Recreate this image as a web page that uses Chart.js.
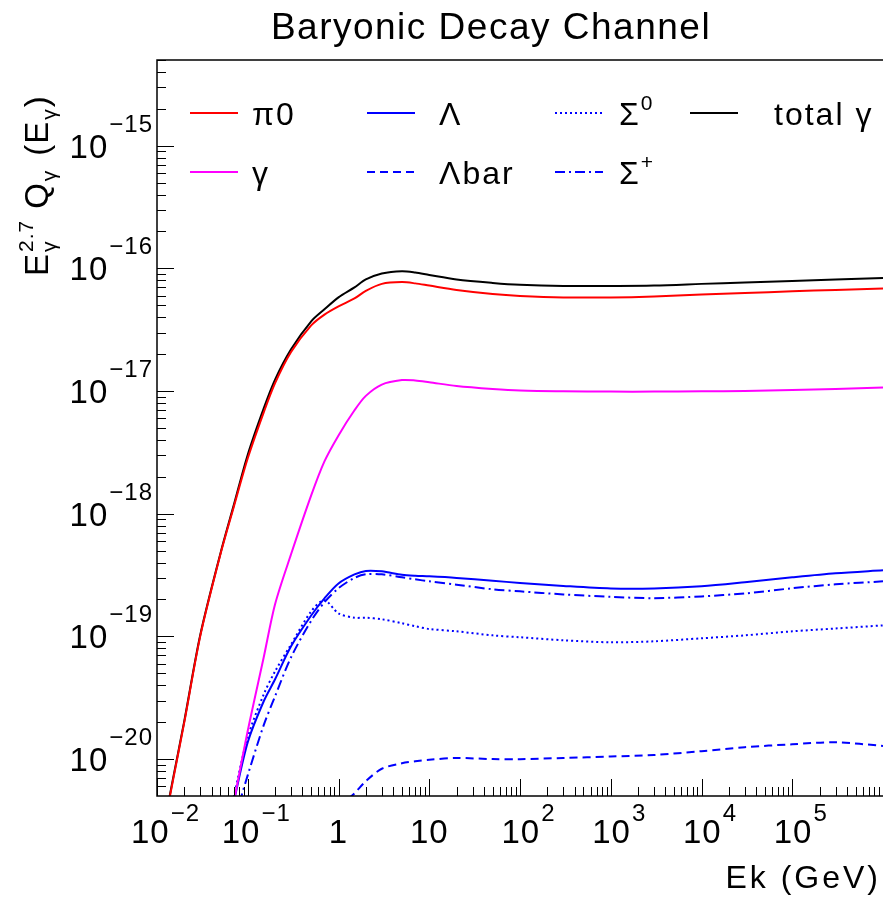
<!DOCTYPE html>
<html>
    <head>
        <title>Baryonic Decay Channel</title>
        <meta charset="utf-8">
        <script src="https://cdn.jsdelivr.net/npm/chart.js@4.4.0/dist/chart.umd.min.js"></script>
        <style>
            html, body { margin: 0; padding: 0; background: #fff; }
            #wrap { position: relative; width: 883px; height: 903px; }
        </style>
    </head>
    <body>
        <div id="wrap"><canvas id="myChart" width="883" height="903"></canvas></div>
        <script>
            // kinetic energy grid (GeV)
            var energy = [0.01, 0.015, 0.02, 0.03, 0.05, 0.07, 0.1, 0.15, 0.2, 0.3, 0.5, 0.7,
                          1, 1.5, 2, 3, 5, 7, 10, 20, 50, 100, 300, 1e3, 3e3, 1e4, 3e4, 1e5, 3e5, 1e6];

            // E^2.7 Q(E) for each channel
            var pi0 = [1.4e-21, 6.7e-21, 2.0e-20, 1.01e-19, 4.67e-19, 1.13e-18, 2.83e-18, 6.7e-18, 1.16e-17, 2.08e-17, 3.43e-17, 4.2e-17,
                       4.9e-17, 5.69e-17, 6.56e-17, 7.48e-17, 7.73e-17, 7.55e-17, 7.24e-17, 6.68e-17, 6.19e-17, 5.97e-17, 5.8e-17, 5.8e-17, 5.91e-17, 6.14e-17, 6.31e-17, 6.5e-17, 6.68e-17, 6.87e-17];
            var gamma = [null, null, null, null, null, 4.4e-21, 1.7e-20, 6.76e-20, 1.83e-19, 4.67e-19, 1.41e-18, 2.67e-18,
                       4.35e-18, 6.97e-18, 9.14e-18, 1.13e-17, 1.23e-17, 1.22e-17, 1.18e-17, 1.1e-17, 1.04e-17, 1.01e-17, 9.95e-18, 9.9e-18, 9.9e-18, 9.95e-18, 1.0e-17, 1.02e-17, 1.04e-17, 1.07e-17];
            var lambda = [null, null, null, null, null, 4.45e-21, 1.37e-20, 2.96e-20, 4.47e-20, 8.3e-20, 1.48e-19, 2.04e-19,
                       2.7e-19, 3.2e-19, 3.42e-19, 3.39e-19, 3.18e-19, 3.12e-19, 3.09e-19, 3.0e-19, 2.84e-19, 2.73e-19, 2.58e-19, 2.46e-19, 2.46e-19, 2.56e-19, 2.76e-19, 3.03e-19, 3.27e-19, 3.46e-19];
            var lambdaBar = [null, null, null, null, null, null, null, null, null, null, null, null,
                       4.05e-21, 5.26e-21, 6.6e-21, 8.34e-21, 9.25e-21, 9.6e-21, 9.87e-21, 1.02e-20, 1.0e-20, 9.98e-21, 1.02e-20, 1.05e-20, 1.08e-20, 1.16e-20, 1.25e-20, 1.32e-20, 1.37e-20, 1.28e-20];
            var sigma0 = [null, null, null, null, null, 4.9e-21, 1.51e-20, 3.37e-20, 5.19e-20, 8.6e-20, 1.6e-19, 1.97e-19,
                       1.54e-19, 1.42e-19, 1.42e-19, 1.38e-19, 1.28e-19, 1.21e-19, 1.15e-19, 1.1e-19, 1.02e-19, 9.84e-20, 9.3e-20, 8.95e-20, 9.12e-20, 9.65e-20, 1.02e-19, 1.1e-19, 1.16e-19, 1.23e-19];
            var sigmaPlus = [null, null, null, null, null, 3.05e-21, 7.4e-21, 1.89e-20, 3.25e-20, 6.76e-20, 1.34e-19, 1.9e-19,
                       2.47e-19, 3.0e-19, 3.21e-19, 3.21e-19, 3.03e-19, 2.92e-19, 2.81e-19, 2.64e-19, 2.42e-19, 2.33e-19, 2.2e-19, 2.1e-19, 2.05e-19, 2.12e-19, 2.24e-19, 2.47e-19, 2.66e-19, 2.81e-19];
            var total = [1.45e-21, 6.9e-21, 2.05e-20, 1.03e-19, 4.75e-19, 1.17e-18, 3.03e-18, 7.23e-18, 1.24e-17, 2.19e-17, 3.7e-17, 4.64e-17,
                       5.81e-17, 7.0e-17, 8.13e-17, 9.1e-17, 9.5e-17, 9.27e-17, 8.85e-17, 8.13e-17, 7.62e-17, 7.36e-17, 7.2e-17, 7.2e-17, 7.26e-17, 7.48e-17, 7.69e-17, 7.91e-17, 8.13e-17, 8.37e-17];

            var xTickDecades = [-2, -1, 0, 1, 2, 3, 4, 5];
            var yTickDecades = [-20, -19, -18, -17, -16, -15];

            var FONT = '"Liberation Sans", Arial, sans-serif';

            function pts(arr) {
                return energy.map(function(e, i) { return {x: e, y: arr[i]}; });
            }
            function ds(label, sup, arr, color, dash) {
                return {label: label, sup: sup, data: pts(arr), borderColor: color, backgroundColor: color,
                        borderWidth: 2, borderDash: dash, pointRadius: 0, tension: 0.3, fill: false};
            }

            // draws one piece of text, returns its width
            function piece(ctx, txt, x, y, size, sp) {
                ctx.font = size + 'px ' + FONT;
                ctx.letterSpacing = (sp || 0) + 'px';
                ctx.fillText(txt, x, y);
                var w = ctx.measureText(txt).width;
                ctx.letterSpacing = '0px';
                return w;
            }
            function textWidth(ctx, txt, size, sp) {
                ctx.font = size + 'px ' + FONT;
                ctx.letterSpacing = (sp || 0) + 'px';
                var w = ctx.measureText(txt).width;
                ctx.letterSpacing = '0px';
                return w;
            }

            var rootFrame = {
                id: 'rootFrame',
                afterDraw: function(chart) {
                    var ctx = chart.ctx, a = chart.chartArea;
                    var xs = chart.scales.x, ys = chart.scales.y;
                    ctx.save();
                    ctx.fillStyle = '#000';
                    ctx.strokeStyle = '#000';
                    ctx.lineWidth = 1.5;
                    ctx.strokeRect(a.left, a.top, a.right - a.left + 2, a.bottom - a.top);

                    // x ticks, drawn inward
                    ctx.lineWidth = 1;
                    ctx.beginPath();
                    for (var k = -2; k <= 5; k++) {
                        for (var m = 1; m <= 9; m++) {
                            var v = m * Math.pow(10, k);
                            var px = Math.round(xs.getPixelForValue(v)) + 0.5;
                            if (px < a.left || px > a.right) continue;
                            var len = m === 1 ? 17 : 9;
                            ctx.moveTo(px, a.bottom);
                            ctx.lineTo(px, a.bottom - len);
                        }
                    }
                    // y ticks
                    for (var k = -21; k <= -15; k++) {
                        for (var m = 1; m <= 9; m++) {
                            var v = m * Math.pow(10, k);
                            var py = Math.round(ys.getPixelForValue(v)) + 0.5;
                            if (py < a.top || py > a.bottom) continue;
                            var len = m === 1 ? 17 : 9;
                            ctx.moveTo(a.left, py);
                            ctx.lineTo(a.left + len, py);
                        }
                    }
                    ctx.stroke();

                    // x tick labels
                    ctx.textBaseline = 'alphabetic';
                    ctx.textAlign = 'left';
                    xTickDecades.forEach(function(k) {
                        var px = xs.getPixelForValue(Math.pow(10, k));
                        if (k === 0 || k === 1) {
                            var t = k === 0 ? '1' : '10';
                            var w = textWidth(ctx, t, 33, 1);
                            piece(ctx, t, px - w / 2, 843, 33, 1);
                            return;
                        }
                        var exp = (k < 0 ? '\u2212' : '') + Math.abs(k);
                        var w1 = textWidth(ctx, '10', 33, 1);
                        var w2 = textWidth(ctx, exp, 24, 1);
                        var x0 = px + 8 - (w1 + w2) / 2;
                        piece(ctx, '10', x0, 843, 33, 1);
                        piece(ctx, exp, x0 + w1 + 1, 821, 24, 1);
                    });

                    // y tick labels
                    yTickDecades.forEach(function(k) {
                        var py = ys.getPixelForValue(Math.pow(10, k));
                        var exp = '\u2212' + Math.abs(k);
                        var w2 = textWidth(ctx, exp, 24, 1);
                        var w1 = textWidth(ctx, '10', 33, 1);
                        var xr = 153;
                        piece(ctx, '10', xr - w2 - w1 - 1, py + 12, 33, 1);
                        piece(ctx, exp, xr - w2, py - 14, 24, 1);
                    });

                    // title
                    var tw = textWidth(ctx, 'Baryonic Decay Channel', 37, 1.5);
                    piece(ctx, 'Baryonic Decay Channel', 491 - tw / 2, 39, 37, 1.5);

                    // x axis title
                    var xw = textWidth(ctx, 'Ek (GeV)', 32, 3);
                    piece(ctx, 'Ek (GeV)', 881 - xw, 888, 32, 3);

                    // y axis title, rotated
                    ctx.save();
                    ctx.translate(48, 276);
                    ctx.rotate(-Math.PI / 2);
                    var x = 0;
                    x += piece(ctx, 'E', x, 0, 33, 1);
                    piece(ctx, '\u03B3', x + 1, 8, 21, 0);
                    x += piece(ctx, '2.7', x + 1, -15, 21, 1) + 12;
                    x += piece(ctx, 'Q', x, 0, 33, 1);
                    x += piece(ctx, '\u03B3', x + 1, 8, 21, 0) + 16;
                    x += piece(ctx, '(', x, 0, 33, 1);
                    x += piece(ctx, 'E', x, 0, 33, 1);
                    x += piece(ctx, '\u03B3', x + 1, 8, 21, 0) + 3;
                    piece(ctx, ')', x, 0, 33, 1);
                    ctx.restore();

                    // legend, two rows of four columns
                    var cols = [190, 367, 555, 690];
                    var textOff = [62, 72, 64, 84];
                    var rows = [113, 172];
                    var slots = [[0, 0], [0, 1], [1, 0], [1, 1], [2, 0], [2, 1], [3, 0]];
                    chart.data.datasets.forEach(function(d, i) {
                        var col = slots[i][0], c = cols[col], r = rows[slots[i][1]];
                        ctx.strokeStyle = d.borderColor;
                        ctx.lineWidth = 2;
                        ctx.setLineDash(d.borderDash || []);
                        ctx.beginPath();
                        ctx.moveTo(c, r);
                        ctx.lineTo(c + 48, r);
                        ctx.stroke();
                        ctx.setLineDash([]);
                        var tx = c + textOff[col];
                        var w = piece(ctx, d.label, tx, r + 12, 32, 2);
                        if (d.sup) piece(ctx, d.sup, tx + w, r - 3, 21, 0);
                    });
                    ctx.restore();
                }
            };

            var ctx = document.getElementById('myChart').getContext('2d');
            var chart = new Chart(ctx, {
                type: 'line',
                data: {
                    datasets: [
                        ds('\u03C00', '', pi0, '#ff0000', []),
                        ds('\u03B3', '', gamma, '#ff00ff', []),
                        ds('\u039B', '', lambda, '#0000ff', []),
                        ds('\u039Bbar', '', lambdaBar, '#0000ff', [8, 5]),
                        ds('\u03A3', '0', sigma0, '#0000ff', [2, 3]),
                        ds('\u03A3', '+', sigmaPlus, '#0000ff', [10, 4, 2, 4]),
                        ds('total \u03B3', '', total, '#000000', [])
                    ]
                },
                options: {
                    responsive: false,
                    animation: false,
                    layout: { padding: { top: 60, right: 0, left: 0, bottom: 0 } },
                    plugins: { legend: { display: false }, tooltip: { enabled: false } },
                    scales: {
                        x: {
                            type: 'logarithmic', min: 0.01, max: 1e6,
                            grid: { display: false }, border: { display: false },
                            ticks: { display: false },
                            afterFit: function(s) { s.height = 107; }
                        },
                        y: {
                            type: 'logarithmic', min: 5e-21, max: 5e-15,
                            grid: { display: false }, border: { display: false },
                            ticks: { display: false },
                            afterFit: function(s) { s.width = 157; }
                        }
                    }
                },
                plugins: [rootFrame]
            });
        </script>
    </body>
</html>
